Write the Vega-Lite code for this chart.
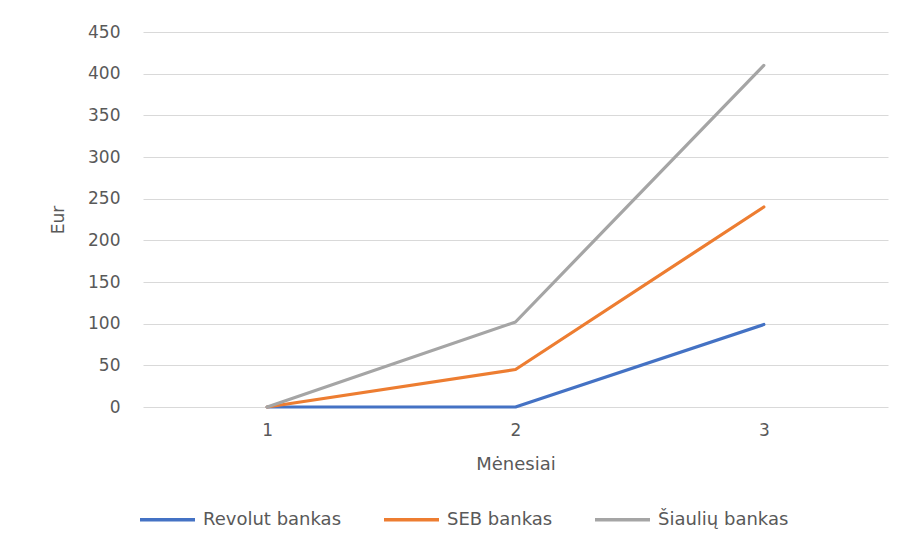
{
  "$schema": "https://vega.github.io/schema/vega-lite/v6.json",
  "width": 745,
  "height": 375,
  "autosize": {"type": "none"},
  "padding": {"left": 143, "top": 32, "right": 14, "bottom": 137},
  "background": "white",
  "config": {
    "view": {"stroke": null},
    "font": "DejaVu Sans",
    "axis": {"labelColor": "#595959", "titleColor": "#595959", "labelFont": "DejaVu Sans", "titleFont": "DejaVu Sans", "titleFontWeight": "normal"}
  },
  "data": {
    "values": [
      {"month": "1", "bank": "Revolut bankas", "eur": 0},
      {"month": "2", "bank": "Revolut bankas", "eur": 0},
      {"month": "3", "bank": "Revolut bankas", "eur": 99},
      {"month": "1", "bank": "SEB bankas", "eur": 0},
      {"month": "2", "bank": "SEB bankas", "eur": 45},
      {"month": "3", "bank": "SEB bankas", "eur": 240},
      {"month": "1", "bank": "Šiaulių bankas", "eur": 0},
      {"month": "2", "bank": "Šiaulių bankas", "eur": 102},
      {"month": "3", "bank": "Šiaulių bankas", "eur": 410}
    ]
  },
  "mark": {"type": "line", "strokeWidth": 3.2, "strokeCap": "round", "strokeJoin": "round"},
  "encoding": {
    "x": {
      "field": "month", "type": "ordinal",
      "scale": {"type": "point", "padding": 0.5},
      "axis": {"title": "Mėnesiai", "labelAngle": 0, "domain": false, "ticks": false, "grid": false, "labelFontSize": 17, "labelPadding": 15, "titleFontSize": 18, "titlePadding": 17}
    },
    "y": {
      "field": "eur", "type": "quantitative",
      "scale": {"domain": [0, 450], "nice": false},
      "axis": {"title": "Eur", "values": [0, 50, 100, 150, 200, 250, 300, 350, 400, 450], "domain": false, "ticks": false, "gridColor": "#d9d9d9", "gridWidth": 1.2, "labelFontSize": 17, "labelPadding": 23, "titleFontSize": 17, "titlePadding": 20}
    },
    "color": {
      "field": "bank", "type": "nominal",
      "scale": {"domain": ["Revolut bankas", "SEB bankas", "Šiaulių bankas"], "range": ["#4472C4", "#ED7D31", "#A5A5A5"]},
      "legend": {
        "title": null, "orient": "none", "legendX": -5, "legendY": 458, "direction": "horizontal", "columns": 3,
        "symbolType": "stroke", "symbolSize": 3025, "symbolStrokeWidth": 3.5, "labelFontSize": 18, "labelColor": "#595959", "labelOffset": 6, "columnPadding": 35
      }
    }
  }
}
